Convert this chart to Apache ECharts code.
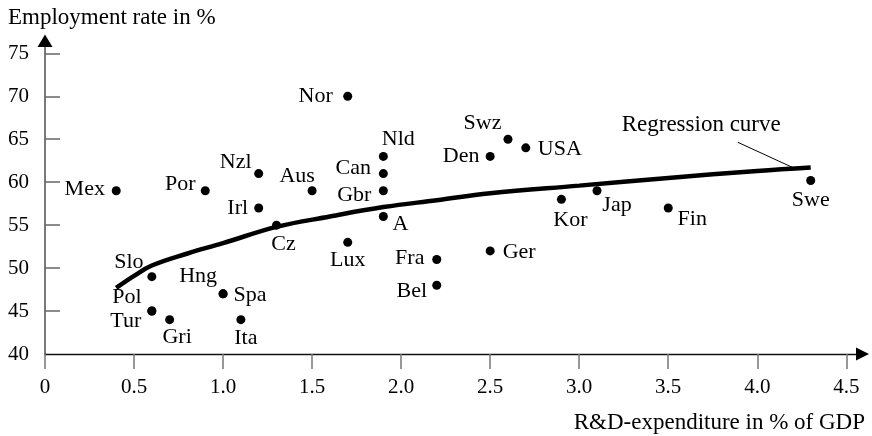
<!DOCTYPE html>
<html><head><meta charset="utf-8">
<script src="https://cdn.jsdelivr.net/npm/echarts@6/dist/echarts.min.js"></script>
<style>html,body{margin:0;padding:0;background:#fff}#c{width:872px;height:436px}</style>
</head><body><div id="c"></div>
<script>
// ---- data ----
const countries = ['Mex','Por','Nzl','Irl','Cz','Slo','Hng','Spa','Pol','Tur','Gri','Ita','Nor','Nld','Can','Gbr','Aus','A','Lux','Fra','Bel','Den','Swz','USA','Ger','Kor','Jap','Fin','Swe'];
const rdExpenditure = [0.4,0.9,1.2,1.2,1.3,0.6,1.0,1.0,0.6,0.6,0.7,1.1,1.7,1.9,1.9,1.9,1.5,1.9,1.7,2.2,2.2,2.5,2.6,2.7,2.5,2.9,3.1,3.5,4.3];
const employmentRate = [59,59,61,57,55,49,47,47,45,45,44,44,70,63,61,59,59,56,53,51,48,63,65,64,52,58,59,57,60.2];
const curveX = [0.4,0.5,0.6,0.8,1.0,1.3,1.6,1.9,2.2,2.5,3.0,3.5,4.0,4.3];
const curveY = [47.7,49.1,50.3,51.7,52.9,54.8,56.0,57.1,57.9,58.7,59.6,60.5,61.3,61.7];
const xTicks = [0,0.5,1.0,1.5,2.0,2.5,3.0,3.5,4.0,4.5];
const yTicks = [40,45,50,55,60,65,70,75];
const curveLabel = 'Regression curve';
const curveLabelAt = [3.685, 66.66];
const leaderLine = [[3.89,64.65],[4.2,61.7]];
const yName = 'Employment rate in %';
const xName = 'R&D-expenditure in % of GDP';

// ---- label layout (pixel offsets from dot centre) ----
const labelOffsets = {
  Mex:[-31.5,-2], Por:[-25,-7], Nzl:[-23,-11], Irl:[-21,0], Cz:[7,19], Slo:[-23,-14],
  Hng:[-25,-18], Spa:[27,1], Pol:[-25,-14], Tur:[-26,10], Gri:[7.5,18], Ita:[5,19],
  Nor:[-32,0], Nld:[15,-17], Can:[-30,-5], Gbr:[-29,4], Aus:[-15,-15], A:[17,8],
  Lux:[0,18], Fra:[-27,-1], Bel:[-25,6], Den:[-29,0], Swz:[-25.5,-16], USA:[34,1],
  Ger:[29,1], Kor:[9,21], Jap:[20,14], Fin:[24,11], Swe:[0,20]
};

const FONT = 'Liberation Serif';
const DOT = 9;
const chart = echarts.init(document.getElementById('c'));

const pointData = countries.map((c, i) => {
  const o = labelOffsets[c] || [0, 0];
  return {
    name: c,
    value: [rdExpenditure[i], employmentRate[i]],
    label: { position: [DOT / 2 + o[0], DOT / 2 + o[1]], align: 'center', verticalAlign: 'middle' }
  };
});

const gridLeft = 45, gridTop = 37, gridRight = 15, gridBottom = 82;
const axisYpx = 436 - gridBottom;
const axisXEnd = 872 - gridRight;

chart.setOption({
  animation: false,
  backgroundColor: '#fff',
  textStyle: { fontFamily: FONT },
  grid: { left: gridLeft, top: gridTop, right: gridRight, bottom: gridBottom },
  xAxis: {
    type: 'value', min: 0, max: 4.56, interval: 0.5,
    axisLine: { show: true, lineStyle: { color: '#111', width: 1.3 } },
    axisTick: { show: true, inside: false, length: 15, customValues: xTicks, lineStyle: { color: '#777', width: 1.5 } },
    axisLabel: { customValues: xTicks, margin: 23, color: '#000', fontSize: 21, fontFamily: FONT,
      formatter: v => (v === 0 ? '0' : v.toFixed(1)) },
    splitLine: { show: false }
  },
  yAxis: {
    type: 'value', min: 40, max: 76.9, interval: 5,
    axisLine: { show: true, lineStyle: { color: '#7a7a7a', width: 2 } },
    axisTick: { show: true, inside: true, length: 15, customValues: yTicks.slice(1), lineStyle: { color: '#666', width: 1.5 } },
    axisLabel: { customValues: yTicks, margin: 16, color: '#000', fontSize: 21, fontFamily: FONT },
    splitLine: { show: false }
  },
  graphic: [
    { type: 'polygon', shape: { points: [[gridLeft, 34.5], [gridLeft - 7.5, 47], [gridLeft + 7.5, 47]] }, style: { fill: '#000' }, z: 100 },
    { type: 'polygon', shape: { points: [[axisXEnd + 12, axisYpx], [axisXEnd - 1, axisYpx - 6.5], [axisXEnd - 1, axisYpx + 6.5]] }, style: { fill: '#000' }, z: 100 },
    { type: 'text', left: 8, top: 6, style: { text: yName, font: '23px "Liberation Serif"', fill: '#000' } },
    { type: 'text', right: 7, top: 411, style: { text: xName, font: '23px "Liberation Serif"', fill: '#000' } }
  ],
  series: [
    {
      type: 'line', name: 'curve', smooth: 0.4, showSymbol: false, silent: true,
      data: curveX.map((x, i) => [x, curveY[i]]),
      lineStyle: { color: '#000', width: 4.5 }, z: 2
    },
    {
      type: 'line', name: 'leader', showSymbol: false, silent: true,
      data: leaderLine,
      lineStyle: { color: '#000', width: 1 }, z: 2
    },
    {
      type: 'scatter', name: 'annot', symbolSize: 0, silent: true,
      itemStyle: { opacity: 1 },
      data: [curveLabelAt],
      label: { show: true, position: 'inside', formatter: curveLabel, color: '#000', fontSize: 23, fontFamily: FONT, align: 'center', verticalAlign: 'middle' }
    },
    {
      type: 'scatter', name: 'countries', symbol: 'circle', symbolSize: DOT,
      itemStyle: { color: '#000', opacity: 1 },
      data: pointData,
      label: { show: true, formatter: p => p.name, color: '#000', fontSize: 22, fontFamily: FONT, align: 'center', verticalAlign: 'middle' },
      labelLayout: { hideOverlap: false },
      z: 3
    }
  ]
});
</script></body></html>
